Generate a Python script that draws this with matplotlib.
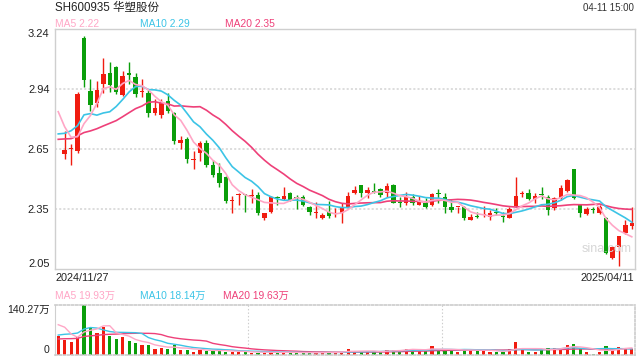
import matplotlib
matplotlib.use("Agg")
import matplotlib.pyplot as plt
import numpy as np
import pandas as pd

plt.rcParams['font.family'] = ['Liberation Sans', 'Noto Sans CJK SC', 'DejaVu Sans']
plt.rcParams['lines.scale_dashes'] = False

# daily candles 2024/11/28 .. 2025/04/11
opens = [2.620, 2.645, 2.637, 3.195, 2.932, 2.875, 2.966, 3.023, 3.050, 2.913,
         3.023, 3.000, 2.926, 2.924, 2.825, 2.813, 2.883, 2.822, 2.676, 2.695,
         2.588, 2.627, 2.676, 2.566, 2.524, 2.505, 2.389, 2.417, 2.419, 2.410,
         2.417, 2.301, 2.334, 2.406, 2.395, 2.425, 2.406, 2.405, 2.359, 2.328,
         2.304, 2.331, 2.321, 2.326, 2.356, 2.425, 2.466, 2.425, 2.434, 2.445,
         2.428, 2.466, 2.380, 2.379, 2.408, 2.367, 2.379, 2.367, 2.426, 2.408,
         2.359, 2.355, 2.356, 2.293, 2.311, 2.316, 2.306, 2.334, 2.310, 2.301,
         2.362, 2.424, 2.428, 2.395, 2.418, 2.405, 2.351, 2.400, 2.438, 2.544,
         2.367, 2.323, 2.344, 2.326, 2.301, 2.106, 2.161, 2.227, 2.263]
closes = [2.640, 2.648, 2.918, 2.987, 2.863, 2.937, 3.017, 2.962, 2.926, 3.007,
          3.013, 2.916, 2.929, 2.825, 2.848, 2.879, 2.833, 2.686, 2.690, 2.597,
          2.592, 2.673, 2.566, 2.516, 2.475, 2.389, 2.392, 2.420, 2.416, 2.413,
          2.326, 2.326, 2.408, 2.404, 2.412, 2.392, 2.404, 2.367, 2.331, 2.330,
          2.318, 2.313, 2.324, 2.356, 2.412, 2.442, 2.428, 2.442, 2.432, 2.417,
          2.461, 2.379, 2.378, 2.408, 2.376, 2.389, 2.359, 2.422, 2.424, 2.356,
          2.343, 2.357, 2.301, 2.309, 2.309, 2.318, 2.326, 2.326, 2.308, 2.346,
          2.412, 2.426, 2.395, 2.412, 2.416, 2.342, 2.400, 2.450, 2.491, 2.400,
          2.329, 2.346, 2.342, 2.356, 2.128, 2.161, 2.214, 2.268, 2.277]
highs = [2.734, 2.670, 2.926, 3.205, 2.992, 2.984, 3.095, 3.075, 3.056, 3.032,
         3.075, 3.023, 2.994, 2.937, 2.891, 2.891, 2.924, 2.830, 2.709, 2.703,
         2.635, 2.685, 2.690, 2.590, 2.574, 2.511, 2.412, 2.425, 2.422, 2.445,
         2.433, 2.329, 2.412, 2.412, 2.455, 2.430, 2.415, 2.415, 2.362, 2.384,
         2.330, 2.387, 2.350, 2.376, 2.433, 2.462, 2.466, 2.458, 2.475, 2.450,
         2.475, 2.470, 2.405, 2.433, 2.420, 2.412, 2.400, 2.428, 2.445, 2.428,
         2.392, 2.357, 2.360, 2.322, 2.334, 2.362, 2.342, 2.354, 2.331, 2.356,
         2.505, 2.438, 2.445, 2.428, 2.455, 2.417, 2.405, 2.466, 2.498, 2.544,
         2.367, 2.359, 2.356, 2.367, 2.306, 2.164, 2.214, 2.292, 2.356]
lows = [2.595, 2.566, 2.627, 2.954, 2.833, 2.855, 2.924, 2.929, 2.916, 2.909,
        2.966, 2.904, 2.904, 2.805, 2.813, 2.797, 2.822, 2.668, 2.645, 2.577,
        2.547, 2.585, 2.556, 2.506, 2.455, 2.376, 2.326, 2.367, 2.334, 2.376,
        2.318, 2.293, 2.326, 2.367, 2.392, 2.385, 2.346, 2.360, 2.318, 2.301,
        2.298, 2.301, 2.310, 2.277, 2.350, 2.420, 2.408, 2.403, 2.425, 2.405,
        2.405, 2.376, 2.356, 2.367, 2.367, 2.367, 2.354, 2.364, 2.376, 2.330,
        2.334, 2.326, 2.293, 2.293, 2.301, 2.306, 2.293, 2.318, 2.284, 2.301,
        2.356, 2.405, 2.392, 2.379, 2.395, 2.318, 2.342, 2.392, 2.433, 2.395,
        2.306, 2.318, 2.326, 2.323, 2.125, 2.100, 2.066, 2.222, 2.247]

# closes before the first candle (last one is 2024/11/27), only to warm up the MAs
warmup_close = [2.60, 2.62, 2.64, 2.66, 2.70, 2.72, 2.74, 2.70, 2.66, 2.62,
                2.61, 2.52, 2.668, 2.45, 2.80, 3.015, 2.908, 2.903, 2.664, 2.66]

# volume in 万 shares, 2024/11/27 .. 2025/04/11
volume = [52.5, 43.0, 36.3, 50.6, 140.27, 76.3, 62.0, 79.2, 52.5, 43.9,
          50.6, 38.2, 32.4, 26.7, 26.7, 18.1, 21.0, 18.1, 26.7, 15.3,
          15.3, 9.5, 15.3, 12.4, 12.4, 12.4, 9.5, 9.5, 9.5, 9.5,
          6.7, 6.7, 6.7, 9.5, 6.7, 6.7, 6.7, 6.7, 6.7, 6.7,
          6.7, 7.6, 7.6, 7.6, 9.5, 18.1, 9.5, 9.5, 9.5, 9.5,
          9.5, 15.3, 15.3, 12.4, 18.1, 18.1, 12.4, 12.4, 23.9, 15.3,
          15.3, 12.4, 9.5, 18.1, 15.3, 12.4, 12.4, 9.5, 9.5, 9.5,
          18.1, 35.3, 17.2, 9.5, 9.5, 17.2, 21.0, 21.0, 19.1, 26.7,
          29.6, 17.2, 9.5, 3.8, 9.5, 26.0, 15.3, 23.0, 17.0, 17.0]
warmup_vol = [30, 32, 34, 36, 38, 38, 36, 34, 32, 30,
              22, 25, 27, 29, 32, 78, 131, 97.6, 65.9]

red = '#f01c10'
green = '#0a9e0a'
c_ma5 = '#ffa6c6'
c_ma10 = '#3cc4e6'
c_ma20 = '#ee4079'

o = np.array(opens)
c = np.array(closes)
h = np.array(highs)
l = np.array(lows)
n = len(volume)
xc = np.arange(1, n)
xall = np.arange(n)
up = c >= o
cols = np.where(up, red, green)

price = pd.Series(warmup_close + closes)
ma5 = price.rolling(5).mean().values[-n:]
ma10 = price.rolling(10).mean().values[-n:]
ma20 = price.rolling(20).mean().values[-n:]

vol = pd.Series(warmup_vol + volume)
vma5 = vol.rolling(5).mean().values[-n:]
vma10 = vol.rolling(10).mean().values[-n:]
vma20 = vol.rolling(20).mean().values[-n:]
vcols = [red] + list(cols)

fig = plt.figure(figsize=(6.4, 3.6), dpi=100)
ax = fig.add_axes([55/640, 91/360, 580/640, 240/360])
axv = fig.add_axes([55/640, 5/360, 580/640, 50/360])

# price panel
ax.set_xlim(-0.5, n - 0.5)
ax.set_ylim(2.05, 3.24)
for s in ax.spines.values():
    s.set_color('#cfcfcf')
    s.set_linewidth(1)
ticks = [2.05, 2.3475, 2.645, 2.9425, 3.24]
for t in ticks[1:-1]:
    ax.axhline(t, color='#dddddd', lw=1.4, ls=(0, (1.5, 1.5)), zorder=0)
ax.vlines(xc, l, h, colors=cols, lw=1, zorder=2)
ax.bar(xc, np.maximum(np.abs(c - o), 0.005), bottom=np.minimum(o, c),
       width=0.7, color=cols, linewidth=0, zorder=3)
ax.plot(xall, ma20, color=c_ma20, lw=1.2, zorder=4)
ax.plot(xall, ma10, color=c_ma10, lw=1.2, zorder=4)
ax.plot(xall, ma5, color=c_ma5, lw=1.2, zorder=4)
ax.set_xticks([])
ax.set_yticks(ticks)
ax.set_yticklabels(['2.05', '2.35', '2.65', '2.94', '3.24'])
ax.tick_params(axis='y', length=0, pad=4, labelsize=8, labelcolor='#222222')
labs = ax.get_yticklabels()
labs[0].set_va('bottom')
labs[-1].set_va('top')
ax.text(0.908, 0.085, 'sina.com', transform=ax.transAxes, fontsize=9,
        color='#d6d6d6', ha='left', va='center')

# volume panel
axv.set_xlim(-0.5, n - 0.5)
axv.set_ylim(0, 140.27)
axv.bar(xall, volume, width=0.5, color=vcols, linewidth=0, zorder=2)
axv.plot(xall, vma20, color=c_ma20, lw=1, zorder=3)
axv.plot(xall, vma10, color=c_ma10, lw=1, zorder=3)
axv.plot(xall, vma5, color=c_ma5, lw=1, zorder=3)
for side in ['top', 'right', 'bottom']:
    axv.spines[side].set_color('#cccccc')
    axv.spines[side].set_linestyle((0, (1.5, 1.5)))
    axv.spines[side].set_linewidth(1.2)
axv.spines['left'].set_color('#cfcfcf')
for xv in [29.5, 59.5]:
    axv.axvline(xv, color='#cccccc', lw=0.8, ls=(0, (1, 1.5)), zorder=0)
axv.set_xticks([])
axv.set_yticks([0, 140.27])
axv.set_yticklabels(['0', '140.27万'])
axv.tick_params(axis='y', length=0, pad=4, labelsize=7.6, labelcolor='#222222')
vl = axv.get_yticklabels()
vl[0].set_va('bottom')
vl[1].set_va('top')

# header and legends
fig.text(55/640, 1 - 8/360, 'SH600935 华塑股份', ha='left', va='center',
         fontsize=8.3, color='#222222')
fig.text(634/640, 1 - 8/360, '04-11 15:00', ha='right', va='center',
         fontsize=7, color='#333333')
fig.text(55/640, 1 - 24/360, 'MA5 2.22', ha='left', va='center', fontsize=7.4, color=c_ma5)
fig.text(140/640, 1 - 24/360, 'MA10 2.29', ha='left', va='center', fontsize=7.4, color=c_ma10)
fig.text(225/640, 1 - 24/360, 'MA20 2.35', ha='left', va='center', fontsize=7.4, color=c_ma20)
fig.text(55/640, 1 - 278/360, '2024/11/27', ha='left', va='center', fontsize=7.8, color='#222222')
fig.text(634/640, 1 - 278/360, '2025/04/11', ha='right', va='center', fontsize=7.8, color='#222222')
fig.text(55/640, 1 - 296/360, 'MA5 19.93万', ha='left', va='center', fontsize=7.4, color=c_ma5)
fig.text(140/640, 1 - 296/360, 'MA10 18.14万', ha='left', va='center', fontsize=7.4, color=c_ma10)
fig.text(223/640, 1 - 296/360, 'MA20 19.63万', ha='left', va='center', fontsize=7.4, color=c_ma20)

fig.savefig('out.png', dpi=100)
